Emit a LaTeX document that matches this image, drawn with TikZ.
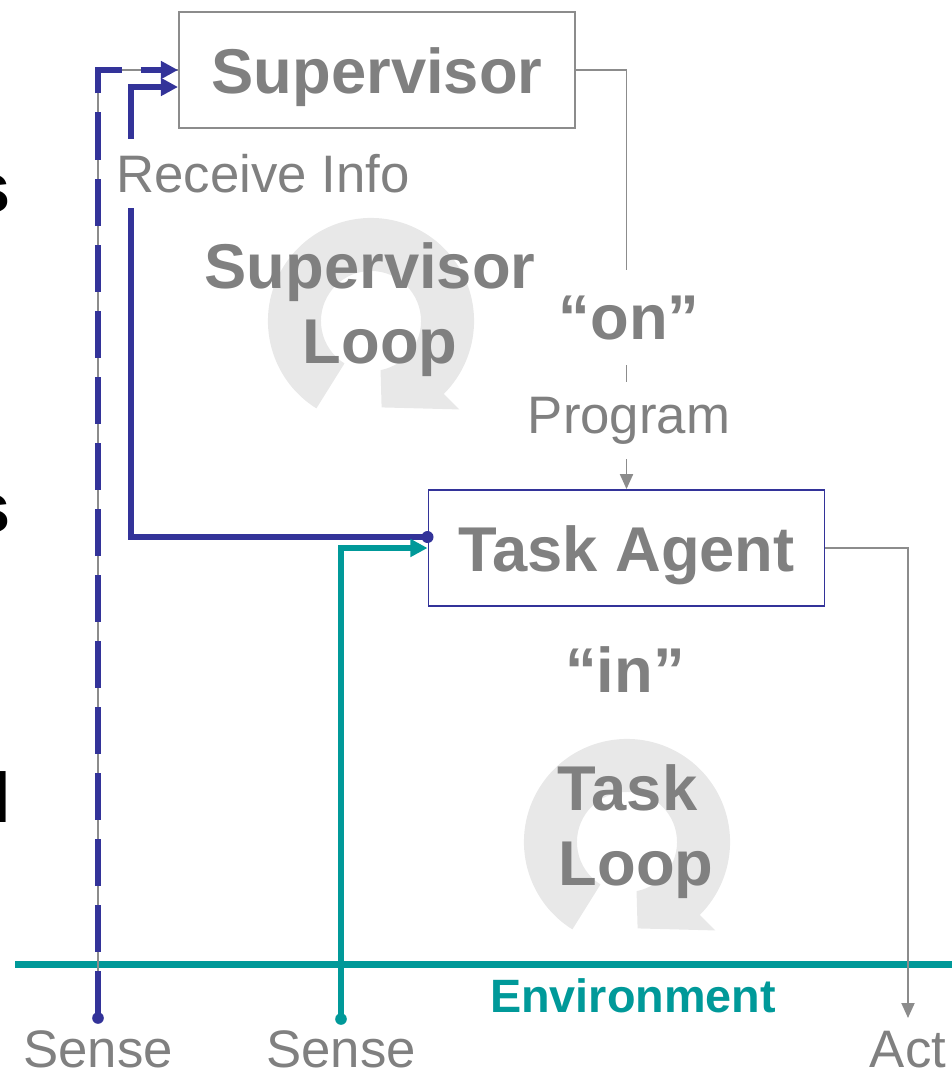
\documentclass[tikz,border=0pt]{standalone}
\usepackage{fontspec}
\setmainfont{Liberation Sans}
\usetikzlibrary{arrows.meta,calc}
\definecolor{txtgray}{HTML}{808080}
\definecolor{boxgray}{HTML}{8C8C8C}
\definecolor{supblue}{HTML}{333399}
\definecolor{envteal}{HTML}{009999}
\definecolor{loopgray}{HTML}{E8E8E8}
\tikzset{block/.style = {draw=boxgray, line width=0.5pt, rectangle, minimum width=3.96cm, minimum height=1.16cm, text height=0.5cm, text depth=0.04cm, inner sep=0pt, text=txtgray, font=\fontsize{18}{21.3}\selectfont\bfseries},
         title/.style = {text=txtgray, inner sep=0pt, font=\fontsize{18}{21.3}\selectfont\bfseries},
         lbl/.style = {text=txtgray, inner sep=0pt, font=\fontsize{15}{18}\selectfont},
         gap/.style = {fill=white, inner xsep=2pt, inner ysep=0.15cm},
         side/.style = {black, inner sep=0pt, anchor=base east, font=\fontsize{20}{24}\selectfont\bfseries},
         wire/.style = {draw=boxgray, line width=0.55pt},
         feed/.style = {line width=1.7pt},
         bluearrow/.style = {-{Triangle[length=0.17cm, width=0.17cm]}},
         grayarrow/.style = {-{Triangle[length=0.15cm, width=0.13cm]}},
         looparrow/.pic = {\fill[loopgray] (238:1.03cm) arc[start angle=238, end angle=-45, radius=1.03cm]
                              -- (-45:1.25cm) -- (-83:0.87cm) -- (-79:0.5cm)
                              arc[start angle=-79, end angle=238, radius=0.5cm] -- cycle;}}
\begin{document}
\begin{tikzpicture}[x=0.01cm, y=-0.01cm]
        \useasboundingbox (0,0) rectangle (952,1072);

        \pic at (371,321) {looparrow};
        \pic at (627,842) {looparrow};

        \node[block] (sup) at (377,70) {Supervisor};
        \node[block, draw=supblue] (task) at (626.5,548) {Task Agent};

        \coordinate (senseS) at (98,1018);
        \coordinate (senseT) at (341,1019);
        \coordinate (actpt) at (908,1018);
        \coordinate (recvdot) at ($(task.west)+(0,-11)$);
        \coordinate (rcorner) at (131,537);

        % environment
        \draw[envteal, line width=2.1pt] (15,964.5) -- (960,964.5);
        \node[anchor=base, inner sep=0pt, text=envteal, font=\fontsize{13.3}{16}\selectfont\bfseries] (env) at (633,1012) {Environment};

        % sense and act
        \draw[wire] (senseS) |- (sup.west);
        \draw[feed, supblue, dash pattern=on 0.47cm off 0.19cm, bluearrow] (senseS) |- (sup.west);
        \draw[feed, supblue, bluearrow] (recvdot) -- (rcorner) |- ($(sup.west)+(0,17)$);
        \draw[feed, envteal, bluearrow] (senseT) |- (task.west);
        \draw[wire, grayarrow] (sup.east) -| (task.north);
        \draw[wire, grayarrow] (task.east) -| (actpt);
        \fill[supblue] (recvdot) circle (0.06cm);
        \fill[supblue] (senseS) circle (0.058cm);
        \fill[envteal] (senseT) circle (0.058cm);

        \node[lbl, gap, anchor=base] (recv) at (263,192) {Receive Info};
        \node[lbl, gap, anchor=base] (prog) at (629,433) {Program};
        \node[title, fill=white, inner ysep=0.25cm, anchor=base] (on) at (629,339) {``on''};
        \node[title, anchor=base] (in) at (625,692) {``in''};

        \node[title, anchor=base] (suploopa) at (370,288) {Supervisor};
        \node[title, anchor=base] (suploopb) at (380,363) {Loop};
        \node[title, anchor=base] (taskloopa) at (627.5,810) {Task};
        \node[title, anchor=base] (taskloopb) at (636,885) {Loop};

        \node[lbl, anchor=base] (senseSlbl) at (98,1067) {Sense};
        \node[lbl, anchor=base] (senseTlbl) at (341,1067) {Sense};
        \node[lbl, anchor=base] (actlbl) at (908,1067) {Act};

        \node[side] at (11,212) {s};
        \node[side] at (11,532) {s};
        \node[side] at (12,822) {l};
    \end{tikzpicture}
\end{document}
